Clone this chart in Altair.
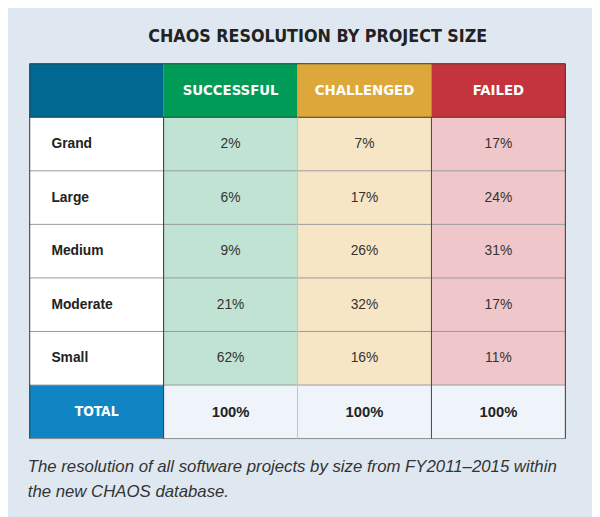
import altair as alt
import pandas as pd

# ---- data ----
sizes = ["Grand", "Large", "Medium", "Moderate", "Small"]
outcomes = ["SUCCESSFUL", "CHALLENGED", "FAILED"]
successful = [2, 6, 9, 21, 62]
challenged = [7, 17, 26, 32, 16]
failed = [17, 24, 31, 17, 11]
totals = [100, 100, 100]
total_label = "TOTAL"
title_text = "CHAOS RESOLUTION BY PROJECT SIZE"
caption_lines = [
    "The resolution of all software projects by size from FY2011\u20132015 within",
    "the new CHAOS database.",
]

# ---- styles ----
BG = "#dfe8f0"
header_fill = ["#006891", "#009b57", "#dea73a", "#c3343c"]
body_fill = ["#ffffff", "#c0e3d3", "#f6e6c6", "#efc6ca"]
total_fill = ["#1185c3", "#eef4fa", "#eef4fa", "#eef4fa"]
NARROW = "Liberation Sans Narrow, DejaVu Sans Condensed, sans-serif"
SANS = "Liberation Sans, Arial, sans-serif"

values = [successful, challenged, failed]
nrows = len(sizes) + 2
ncols = len(outcomes) + 1

# cells
cells = []
for c in range(ncols):
    cells.append({"c": c, "r": 0, "fill": header_fill[c]})
    for i in range(len(sizes)):
        cells.append({"c": c, "r": i + 1, "fill": body_fill[c]})
    cells.append({"c": c, "r": nrows - 1, "fill": total_fill[c]})
cells = pd.DataFrame(cells)
cells["c2"] = cells["c"] + 1
cells["r2"] = cells["r"] + 1

xs = alt.Scale(domain=[0, ncols], range=[22, 565])
ys = alt.Scale(domain=[0, nrows], range=[53, 433])

def X(f):
    return alt.X(f, type="quantitative", scale=xs, axis=None)

def Y(f):
    return alt.Y(f, type="quantitative", scale=ys, axis=None)

rects = alt.Chart(cells).mark_rect(strokeWidth=0).encode(
    x=X("c"), x2="c2", y=Y("r"), y2="r2",
    color=alt.Color("fill:N", scale=None),
)

# grid lines
lines = []
lines.append({"x0": 0, "x1": ncols, "y0": 0, "y1": 0, "col": "#333333"})
lines.append({"x0": 0, "x1": ncols, "y0": 1, "y1": 1, "col": "#333333"})
for r in range(2, nrows):
    lines.append({"x0": 0, "x1": ncols, "y0": r, "y1": r, "col": "#9a9a9a"})
lines.append({"x0": 0, "x1": ncols, "y0": nrows, "y1": nrows, "col": "#8a8a8a"})
lines.append({"x0": 0, "x1": 0, "y0": 0, "y1": nrows, "col": "#333333"})
lines.append({"x0": ncols, "x1": ncols, "y0": 0, "y1": nrows, "col": "#333333"})
for c, col in zip([1, 2, 3], ["#333333", "#c4c4c4", "#444444"]):
    lines.append({"x0": c, "x1": c, "y0": 1, "y1": nrows, "col": col})
lines = pd.DataFrame(lines)

rules = alt.Chart(lines).mark_rule(strokeWidth=1).encode(
    x=X("x0"), x2="x1", y=Y("y0"), y2="y1",
    color=alt.Color("col:N", scale=None),
)

# header texts
hdr = pd.DataFrame({"c": [i + 1.5 for i in range(len(outcomes))], "r": 0.5, "t": outcomes})
hdr_text = alt.Chart(hdr).mark_text(
    font=NARROW, fontSize=15, fontWeight="bold", color="white", baseline="middle", align="center"
).encode(x=X("c"), y=Y("r"), text="t:N")

# row labels
rl = pd.DataFrame({"c": 0, "r": [i + 1.5 for i in range(len(sizes))], "t": sizes})
rl_text = alt.Chart(rl).mark_text(
    font=SANS, fontSize=14, fontWeight="bold", color="#222222", baseline="middle", align="left", dx=22
).encode(x=X("c"), y=Y("r"), text="t:N")

# values
vals = []
for j, series in enumerate(values):
    for i, v in enumerate(series):
        vals.append({"c": j + 1.5, "r": i + 1.5, "t": f"{v}%"})
vals = pd.DataFrame(vals)
val_text = alt.Chart(vals).mark_text(
    font=SANS, fontSize=14, color="#333333", baseline="middle", align="center"
).encode(x=X("c"), y=Y("r"), text="t:N")

# totals
tot = pd.DataFrame({"c": [j + 1.5 for j in range(len(totals))], "r": nrows - 0.5,
                    "t": [f"{v}%" for v in totals]})
tot_text = alt.Chart(tot).mark_text(
    font=SANS, fontSize=15, fontWeight="bold", color="#222222", baseline="middle", align="center"
).encode(x=X("c"), y=Y("r"), text="t:N")

totl = pd.DataFrame({"c": [0.5], "r": [nrows - 0.5], "t": [total_label]})
totl_text = alt.Chart(totl).mark_text(
    font=NARROW, fontSize=14, fontWeight="bold", color="white", baseline="middle", align="center"
).encode(x=X("c"), y=Y("r"), text="t:N")

# title
ttl = pd.DataFrame({"t": [title_text]})
title_mark = alt.Chart(ttl).mark_text(
    font=NARROW, fontSize=18, fontWeight="bold", color="#222222", align="center", baseline="alphabetic"
).encode(x=alt.value(314), y=alt.value(31), text="t:N")

# caption
cap = pd.DataFrame({"t": ["\n".join(caption_lines)]})
cap_mark = alt.Chart(cap).mark_text(
    font=SANS, fontSize=17, fontStyle="italic", color="#333333", align="left",
    baseline="alphabetic", lineBreak="\n", lineHeight=25
).encode(x=alt.value(20), y=alt.value(467), text="t:N")

chart = alt.layer(
    rects, rules, hdr_text, rl_text, val_text, tot_text, totl_text, title_mark, cap_mark
).properties(
    width=592, height=509, autosize=alt.AutoSizeParams(type="none"), padding=0, background=BG
).configure_view(stroke=None)

chart.save("out.html", embed_options={"renderer": "svg", "actions": False})
